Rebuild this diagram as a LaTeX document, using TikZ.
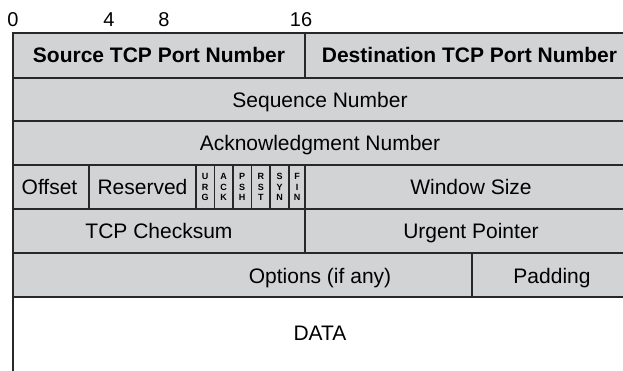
\documentclass[tikz,border=0pt]{standalone}
\usepackage{fontspec}
\setmainfont{Liberation Sans}
\definecolor{cellgray}{RGB}{210,211,213}
\definecolor{rulegray}{RGB}{40,40,40}
\tikzset{
	field/.style={font=\fontsize{21}{25}\selectfont,anchor=base,inner sep=0pt},
	fieldbf/.style={field,font=\fontsize{21}{25}\selectfont\bfseries},
	flagbit/.style={font=\fontsize{9}{10.2}\selectfont\bfseries,align=center,inner sep=0pt},
	bitnum/.style={font=\fontsize{20}{24}\selectfont,anchor=base,inner sep=0pt},
	rule/.style={line width=1.3pt,rulegray}
}
\begin{document}
\begin{tikzpicture}[x=1pt,y=-1pt]
		\useasboundingbox (0,0) rectangle (623,371);
		\fill[cellgray](13,33) rectangle (640,297);
		
		\draw[rule](640,33)--(13,33)--(13,380);
		\foreach \y in {78,121,165,209,253,297}
			\draw[rule](13,\y)--(640,\y);
		\draw[rule](305,33)--(305,78);
		\foreach \x in {89,196,214.5,233,251.5,270,289,305}
			\draw[rule](\x,165)--(\x,209);
		\draw[rule](305,209)--(305,253);
		\draw[rule](472,253)--(472,297);
		
		\node[bitnum] (bit0) at (13,27){0};
		\node[bitnum] (bit4) at (109,27){4};
		\node[bitnum] (bit8) at (164,27){8};
		\node[bitnum] (bit16) at (301,27){16};
		
		\node[fieldbf] (srcport) at (159,63){Source TCP Port Number};
		\node[fieldbf] (dstport) at (469.5,63){Destination TCP Port Number};
		\node[field] (seqnum) at (320,107.5){Sequence Number};
		\node[field] (acknum) at (320,151){Acknowledgment Number};
		\node[field] (offset) at (49.5,195){Offset};
		\node[field] (reserved) at (142.5,195){Reserved};
		\foreach \x/\a/\b/\c in {205/U/R/G,223.5/A/C/K,242.2/P/S/H,260.9/R/S/T,279.5/S/Y/N,297/F/I/N}
			\node[flagbit] (flag\a\b\c) at (\x,187){\a\\\b\\\c};
		\node[field] (window) at (471,195){Window Size};
		\node[field] (checksum) at (159,239){TCP Checksum};
		\node[field] (urgent) at (471,239){Urgent Pointer};
		\node[field] (options) at (320,283){Options (if any)};
		\node[field] (padding) at (552,283){Padding};
		\node[field] (data) at (320,340){DATA};
		\end{tikzpicture}
\end{document}
